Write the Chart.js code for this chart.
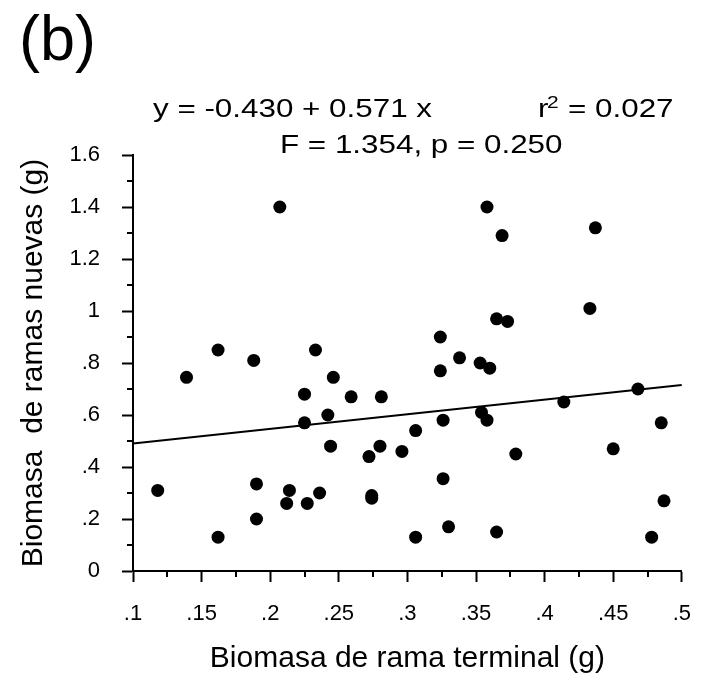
<!DOCTYPE html>
<html>
<head>
<meta charset="utf-8">
<script src="https://cdn.jsdelivr.net/npm/chart.js@4/dist/chart.umd.min.js"></script>
<style>
  html, body { margin: 0; padding: 0; background: #fff; }
</style>
</head>
<body>
<canvas id="scatterChart" width="710" height="682"></canvas>
<script>
// values
const xValues = [0.118, 0.139, 0.162, 0.162, 0.188, 0.190, 0.190, 0.207, 0.212, 0.214,
  0.225, 0.225, 0.227, 0.233, 0.236, 0.242, 0.244, 0.246, 0.259, 0.272,
  0.274, 0.274, 0.280, 0.281, 0.296, 0.306, 0.306, 0.324, 0.324, 0.326,
  0.326, 0.330, 0.338, 0.353, 0.354, 0.358, 0.358, 0.360, 0.365, 0.365,
  0.369, 0.373, 0.379, 0.414, 0.433, 0.437, 0.450, 0.468, 0.478, 0.485, 0.487];
const yValues = [0.31, 0.745, 0.85, 0.13, 0.81, 0.335, 0.20, 1.40, 0.26, 0.31,
  0.68, 0.57, 0.26, 0.85, 0.30, 0.60, 0.48, 0.745, 0.67, 0.44,
  0.29, 0.28, 0.48, 0.67, 0.46, 0.54, 0.13, 0.90, 0.77, 0.58,
  0.355, 0.17, 0.82, 0.80, 0.61, 0.58, 1.40, 0.78, 0.97, 0.15,
  1.29, 0.96, 0.45, 0.65, 1.01, 1.32, 0.47, 0.70, 0.13, 0.57, 0.27];

// fitted line as drawn (end points)
const fitX = [0.1, 0.5];
const fitY = [0.49, 0.715];

const xTicks = [0.1, 0.15, 0.2, 0.25, 0.3, 0.35, 0.4, 0.45, 0.5];
const xTickLabels = [".1", ".15", ".2", ".25", ".3", ".35", ".4", ".45", ".5"];
const yTicks = [0, 0.2, 0.4, 0.6, 0.8, 1, 1.2, 1.4, 1.6];
const yTickLabels = ["0", ".2", ".4", ".6", ".8", "1", "1.2", "1.4", "1.6"];

const panelLabel = "(b)";
const eqText = "y = -0.430 + 0.571 x";
const statText = "F = 1.354, p = 0.250";
const r2Value = "= 0.027";

const FONT = "'Liberation Sans', Arial, sans-serif";

// text drawn a bit wider, like the figure
function wideText(ctx, text, x, y, size, sx) {
  ctx.save();
  ctx.font = size + "px " + FONT;
  ctx.translate(x, y);
  ctx.scale(sx, 1);
  ctx.fillText(text, 0, 0);
  ctx.restore();
}

const annotations = {
  id: "annotations",
  afterDraw(chart) {
    const ctx = chart.ctx;
    ctx.save();
    ctx.fillStyle = "#000";
    ctx.textBaseline = "alphabetic";
    ctx.textAlign = "left";
    wideText(ctx, panelLabel, 19, 60, 63, 1);
    wideText(ctx, eqText, 153, 117, 25.5, 1.23);
    wideText(ctx, "r", 538, 117, 25.5, 1.23);
    wideText(ctx, "2", 547, 108, 17, 1.23);
    wideText(ctx, r2Value, 568, 117, 25.5, 1.23);
    wideText(ctx, statText, 280, 153, 25.5, 1.23);
    ctx.restore();
  }
};

// short ticks half way between the labelled ones
const minorTicks = {
  id: "minorTicks",
  afterDraw(chart) {
    const ctx = chart.ctx;
    const xs = chart.scales.x;
    const ys = chart.scales.y;
    ctx.save();
    ctx.strokeStyle = "#000";
    ctx.lineWidth = 2;
    for (let i = 1; i < xTicks.length; i++) {
      const px = Math.round(xs.getPixelForValue((xTicks[i - 1] + xTicks[i]) / 2));
      ctx.beginPath();
      ctx.moveTo(px, xs.top);
      ctx.lineTo(px, xs.top + 6);
      ctx.stroke();
    }
    for (let i = 1; i < yTicks.length; i++) {
      const py = Math.round(ys.getPixelForValue((yTicks[i - 1] + yTicks[i]) / 2));
      ctx.beginPath();
      ctx.moveTo(ys.right, py);
      ctx.lineTo(ys.right - 6, py);
      ctx.stroke();
    }
    ctx.restore();
  }
};

function drawChart() {
  const ctx = document.getElementById("scatterChart").getContext("2d");

  new Chart(ctx, {
    type: "scatter",
    data: {
      datasets: [
        {
          label: "fit",
          type: "line",
          data: fitX.map((x, i) => ({ x: x, y: fitY[i] })),
          borderColor: "#000",
          borderWidth: 2,
          pointRadius: 0,
          fill: false
        },
        {
          label: "data",
          data: xValues.map((x, i) => ({ x: x, y: yValues[i] })),
          backgroundColor: "#000",
          borderWidth: 0,
          pointRadius: 6.5
        }
      ]
    },
    options: {
      responsive: false,
      animation: false,
      devicePixelRatio: 1,
      layout: { padding: { top: 155, right: 7, left: 0, bottom: 0 } },
      plugins: { legend: { display: false }, tooltip: { enabled: false } },
      scales: {
        x: {
          type: "linear",
          min: 0.1,
          max: 0.5,
          afterFit: s => { s.height = 111; },
          afterBuildTicks: s => { s.ticks = xTicks.map(v => ({ value: v })); },
          border: { color: "#000", width: 2 },
          grid: { drawOnChartArea: false, tickLength: 11, tickColor: "#000", tickWidth: 2 },
          ticks: {
            autoSkip: false,
            maxRotation: 0,
            padding: 19,
            color: "#000",
            font: { size: 22, family: FONT },
            callback: (v, i) => xTickLabels[i]
          },
          title: {
            display: true,
            text: "Biomasa de rama terminal (g)",
            color: "#000",
            font: { size: 30, family: FONT },
            padding: { top: 0, bottom: 5 }
          }
        },
        y: {
          type: "linear",
          min: 0,
          max: 1.6,
          afterFit: s => { s.width = 133; },
          afterBuildTicks: s => { s.ticks = yTicks.map(v => ({ value: v })); },
          border: { color: "#000", width: 2 },
          grid: { drawOnChartArea: false, tickLength: 11, tickColor: "#000", tickWidth: 2 },
          ticks: {
            autoSkip: false,
            padding: 22,
            color: "#000",
            font: { size: 22, family: FONT },
            callback: (v, i) => yTickLabels[i]
          },
          title: {
            display: true,
            text: "Biomasa  de ramas nuevas (g)",
            color: "#000",
            font: { size: 30, family: FONT },
            padding: { top: 16, bottom: 0 }
          }
        }
      }
    },
    plugins: [minorTicks, annotations]
  });
}

drawChart();
</script>
</body>
</html>
